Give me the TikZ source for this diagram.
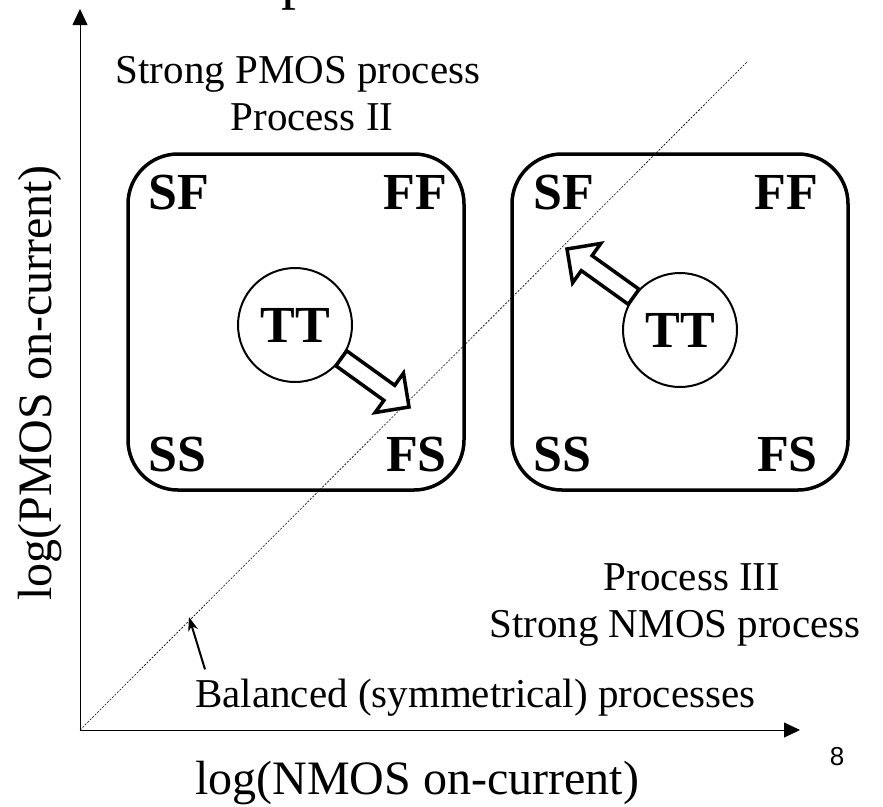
\documentclass[tikz,border=0pt]{standalone}
\usepackage{fontspec}
\setmainfont{Liberation Serif}
\newfontfamily\pagefont{Liberation Sans}
\usetikzlibrary{arrows.meta}
\usetikzlibrary{positioning}
\usetikzlibrary{shapes.arrows}
\usetikzlibrary{calc}

\begin{document}
\begin{tikzpicture}[x=1pt,y=-1pt]
  \tikzset{
    corner/.style={inner sep=0pt,font=\fontsize{52}{52}\selectfont\bfseries},
    caption/.style={inner sep=0pt,font=\fontsize{41}{41}\selectfont},
    axislabel/.style={inner sep=0pt,font=\fontsize{48}{48}\selectfont},
    axis/.style={line width=0.8pt,-{Triangle[length=16pt,width=15pt]}},
    diag/.style={line width=0.6pt,dash pattern=on 2pt off 1.5pt},
    corners/.style={draw,line width=3.5pt,rounded corners=50pt,minimum width=336pt,minimum height=336pt,inner sep=0pt},
    tt/.style={circle,draw,line width=2pt,fill=white,minimum size=114pt,inner sep=0pt,font=\fontsize{52}{52}\selectfont\bfseries},
    blockarrow/.style={single arrow,draw,fill=white,line width=3.5pt,inner xsep=0pt,inner ysep=7.5pt,single arrow head extend=15pt,outer sep=0pt},
  }
  \useasboundingbox (0,0) rectangle (883,806);
  %TITLE
  \node[inner sep=0pt,anchor=base west,font=\fontsize{60}{60}\selectfont] (ttl) at (281,-3) {p};
  %AXES
  \coordinate (O) at (80,730);
  \coordinate (ytip) at (80,9);
  \coordinate (xtip) at (800,730);
  \coordinate (D) at (748,61);
  \draw[diag] (O) -- (D);
  \draw[axis] (O) -- (ytip);
  \draw[axis] (O) -- (xtip);
  \node[axislabel,rotate=90] (ylab) at (40,383) {log(PMOS on-current)};
  \node[axislabel,anchor=base west] (xlab) at (195,794) {log(NMOS on-current)};
  \node[inner sep=0pt,font=\pagefont\fontsize{26}{26}\selectfont] (pg) at (837,757) {8};
  %BOX 1
  \node[corners] (box1) at (296,322) {};
  \node[corner,anchor=base west] (SF1) at (148,209) {SF};
  \node[corner,anchor=base east] (FF1) at (447,209) {FF};
  \node[corner,anchor=base west] (SS1) at (148,471) {SS};
  \node[corner,anchor=base east] (FS1) at (447,471) {FS};
  \node[caption,anchor=base] (pmos) at (298,83) {Strong PMOS process};
  \node[caption,anchor=base] (proc2) at (312,130) {Process II};
  %BOX 2
  \node[corners] (box2) at (680,322) {};
  \node[corner,anchor=base west] (SF2) at (533,209) {SF};
  \node[corner,anchor=base east] (FF2) at (818,209) {FF};
  \node[corner,anchor=base west] (SS2) at (533,471) {SS};
  \node[corner,anchor=base east] (FS2) at (818,471) {FS};
  \node[caption,anchor=base] (proc3) at (692,590) {Process III};
  \node[caption,anchor=base] (nmos) at (675,637) {Strong NMOS process};
  %TT
  \node[tt] (TT1) at (295,325) {TT};
  \node[tt] (TT2) at (680,330) {TT};
  \coordinate (tip1) at (409,407);
  \coordinate (tip2) at (567,249);
  \path let \p1=($(tip1)-(TT1)$), \n1={atan2(\y1,\x1)}, \n2={veclen(\x1,\y1)-57} in
    node[blockarrow,rotate=\n1,minimum height=\n2,anchor=tip] (arr1) at (tip1) {};
  \path let \p1=($(tip2)-(TT2)$), \n1={atan2(\y1,\x1)}, \n2={veclen(\x1,\y1)-57} in
    node[blockarrow,rotate=\n1,minimum height=\n2,anchor=tip] (arr2) at (tip2) {};
  %BALANCED
  \node[caption,anchor=base west] (bal) at (195,707) {Balanced (symmetrical) processes};
  \coordinate (balpt) at (189,617);
  \draw[line width=2pt,-{Stealth[length=14pt,width=10pt]}] ([xshift=10pt,yshift=9pt]bal.north west) -- (balpt);
\end{tikzpicture}
\end{document}
